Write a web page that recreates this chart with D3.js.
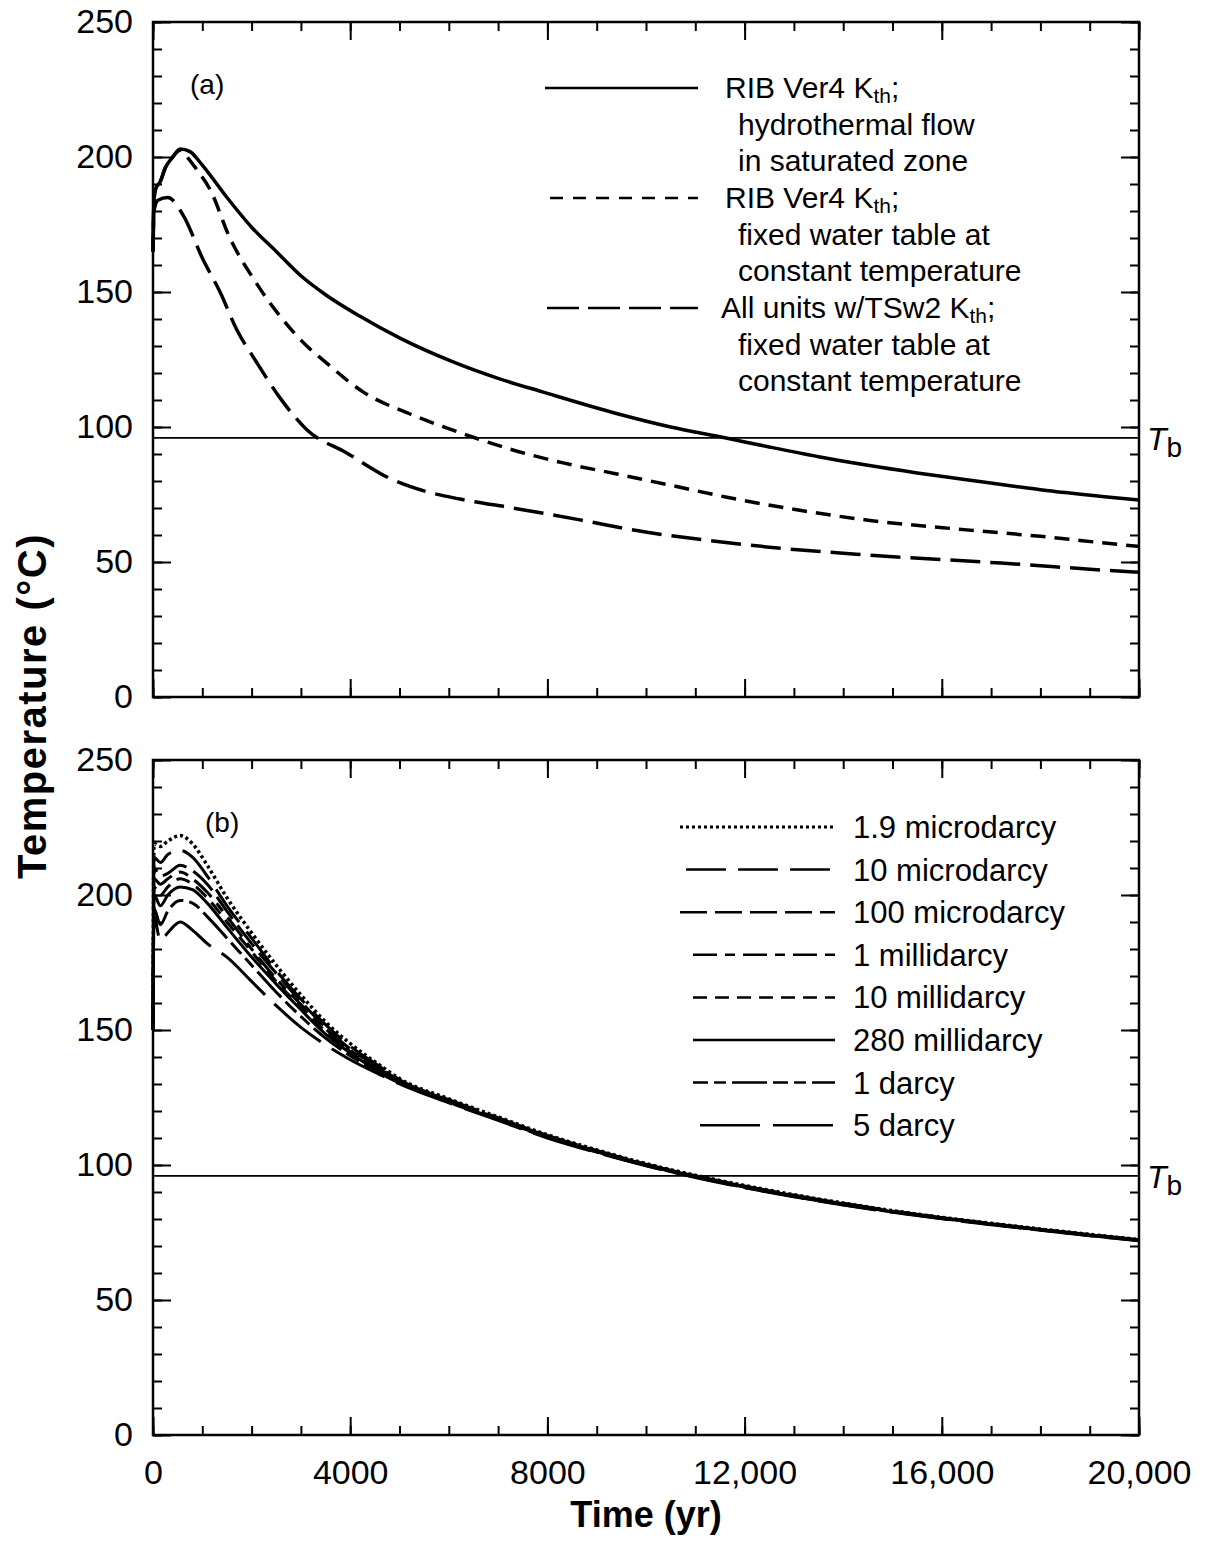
<!DOCTYPE html>
<html>
<head>
<meta charset="utf-8">
<script src="https://cdn.jsdelivr.net/npm/d3@7/dist/d3.min.js"></script>
<style>
  html, body { margin: 0; padding: 0; background: #fff; }
  svg { display: block; }
  text { font-family: "Liberation Sans", Arial, Helvetica, sans-serif; fill: #000; }
</style>
</head>
<body>
<svg id="chart" width="1210" height="1547"></svg>
<script>
// ---------- data ----------
const yTicksMajor = [0, 50, 100, 150, 200, 250];
const xTicksMajor = [0, 4000, 8000, 12000, 16000, 20000];
const xTickLabels = ["0", "4000", "8000", "12,000", "16,000", "20,000"];
const boilingTemp = 96; // T_b

// panel (a)
const aSolidYears = [0, 20, 50, 150, 250, 400, 550, 750, 1000, 1500, 2000, 2500, 3000, 3500, 4200, 5000, 6100, 7000, 7900, 9400, 10500, 11600, 12500, 13500, 14500, 15500, 16500, 17500, 18500, 19300, 20000];
const aSolidTemps = [165, 184, 188, 191, 196, 200, 203, 202, 197, 185, 174, 165, 156, 149, 141, 133, 124, 118, 113, 105, 100, 96, 92.6, 89, 85.8, 83, 80.5, 78, 75.7, 74.2, 73];

const aShortYears = [0, 20, 50, 150, 250, 400, 550, 710, 900, 1156, 1560, 2070, 2580, 3120, 3450, 4260, 5270, 6370, 7300, 8320, 9410, 10480, 11640, 13000, 14500, 16500, 18000, 19700, 20000];
const aShortTemps = [165, 184, 188, 191, 196, 200, 202.5, 199.6, 195, 188, 170, 154, 141, 130, 124.8, 113, 104.4, 97, 91.5, 86.7, 82.6, 78.5, 74, 69.5, 65.5, 61.9, 59.5, 56.3, 55.8];

const aLongYears = [0, 20, 100, 300, 610, 1015, 1360, 1700, 2100, 2580, 3120, 3930, 4800, 5560, 6230, 7300, 8660, 10020, 11360, 12500, 14500, 17200, 19900, 20000];
const aLongTemps = [165, 180, 184, 185, 178.5, 162, 150, 136, 124, 110.7, 99, 90.4, 81, 76, 73.3, 70, 65.6, 61, 57.8, 55.5, 52.6, 49.6, 46.3, 46.2];

const aLegendLabels = [
  ["RIB Ver4 K", "th", ";", "hydrothermal flow", "in saturated zone"],
  ["RIB Ver4 K", "th", ";", "fixed water table at", "constant temperature"],
  ["All units w/TSw2 K", "th", ";", "fixed water table at", "constant temperature"]
];

// panel (b): permeability cases on a shared time grid
const bYears = [0, 20, 150, 300, 550, 800, 1100, 1500, 2000, 2500, 3000, 3500, 4000, 4600, 5000, 6000, 7000, 8000, 9000, 10000, 11000, 12000, 13000, 14000, 15000, 16000, 17000, 18000, 19000, 20000];
const bLabels = ["1.9 microdarcy", "10 microdarcy", "100 microdarcy", "1 millidarcy", "10 millidarcy", "280 millidarcy", "1 darcy", "5 darcy"];
const b19micro  = [150, 219, 218, 220, 222, 219, 211, 199, 186, 174, 163, 153, 145, 137, 132, 124.5, 117.8, 111.2, 105.6, 100.5, 96.2, 92.4, 89, 85.9, 83.1, 80.6, 78.4, 76.3, 74.3, 72.4];
const b10micro  = [150, 214, 212, 215, 216.5, 214, 207, 196, 184, 172, 161.5, 152, 144, 136.5, 131.6, 124.2, 117.5, 111, 105.4, 100.3, 96, 92.2, 88.8, 85.8, 83, 80.5, 78.3, 76.2, 74.2, 72.3];
const b100micro = [150, 210, 207, 208, 211, 209, 204, 194, 182, 171, 160.5, 151, 143, 136, 131.3, 124, 117.3, 110.8, 105.2, 100.2, 95.9, 92.1, 88.7, 85.7, 82.9, 80.5, 78.2, 76.1, 74.1, 72.2];
const b1milli   = [150, 206, 204, 206, 208.5, 206, 201, 192, 180, 169, 159.5, 150.5, 142.5, 135.5, 131, 123.8, 117.1, 110.6, 105.1, 100.1, 95.8, 92, 88.6, 85.6, 82.8, 80.4, 78.2, 76.1, 74.1, 72.2];
const b10milli  = [150, 203, 200, 203, 206, 204, 199, 190, 179, 168, 158.5, 149.5, 142, 135, 130.8, 123.6, 117, 110.5, 105, 100, 95.7, 91.9, 88.5, 85.5, 82.7, 80.3, 78.1, 76, 74, 72.1];
const b280milli = [150, 200, 196, 200, 203, 202, 197, 188, 177, 167, 157.5, 148.5, 141.5, 134.5, 130.6, 123.4, 116.9, 110.4, 104.9, 99.9, 95.6, 91.8, 88.4, 85.4, 82.7, 80.3, 78.1, 76, 74, 72.1];
const b1darcy   = [150, 195, 189, 194, 198, 197, 192, 184, 174, 164, 155, 147, 140.5, 134, 130.3, 123.2, 116.7, 110.2, 104.8, 99.8, 95.5, 91.7, 88.3, 85.3, 82.6, 80.2, 78, 75.9, 73.9, 72];
const b5darcy   = [150, 192, 183, 186, 190, 187, 182, 177, 168, 159, 151, 144.5, 139, 133.5, 130, 123, 116.5, 110, 104.6, 99.7, 95.4, 91.6, 88.2, 85.2, 82.5, 80.1, 77.9, 75.8, 73.8, 71.9];

// ---------- layout ----------
const svg = d3.select("#chart");
const left = 153, right = 1139;
const panels = [
  { top: 22, bottom: 697, tag: "(a)", showX: false },
  { top: 760, bottom: 1435, tag: "(b)", showX: true }
];

const x = d3.scaleLinear().domain([0, 20000]).range([left, right]);

function yScale(p) { return d3.scaleLinear().domain([0, 250]).range([p.bottom, p.top]); }

const minorY = d3.range(0, 251, 10);
const minorX = d3.range(0, 20001, 1000);

function drawFrame(p, y) {
  const g = svg.append("g");
  // minor ticks, all four sides, inward
  g.append("g").attr("transform", `translate(${left},0)`)
    .call(d3.axisLeft(y).tickValues(minorY).tickSize(-9).tickFormat(""));
  g.append("g").attr("transform", `translate(${right},0)`)
    .call(d3.axisRight(y).tickValues(minorY).tickSize(-9).tickFormat(""));
  g.append("g").attr("transform", `translate(0,${p.bottom})`)
    .call(d3.axisBottom(x).tickValues(minorX).tickSize(-9).tickFormat(""));
  g.append("g").attr("transform", `translate(0,${p.top})`)
    .call(d3.axisTop(x).tickValues(minorX).tickSize(-9).tickFormat(""));
  // major ticks
  g.append("g").attr("transform", `translate(${left},0)`)
    .call(d3.axisLeft(y).tickValues(yTicksMajor).tickSize(-18).tickPadding(20).tickFormat(d3.format("d")));
  g.append("g").attr("transform", `translate(${right},0)`)
    .call(d3.axisRight(y).tickValues(yTicksMajor).tickSize(-18).tickFormat(""));
  g.append("g").attr("transform", `translate(0,${p.bottom})`)
    .call(d3.axisBottom(x).tickValues(xTicksMajor).tickSize(-18).tickPadding(25)
      .tickFormat((d, i) => p.showX ? xTickLabels[i] : ""));
  g.append("g").attr("transform", `translate(0,${p.top})`)
    .call(d3.axisTop(x).tickValues(xTicksMajor).tickSize(-18).tickFormat(""));

  g.selectAll(".domain").remove();
  g.selectAll(".tick line").attr("stroke", "#000").attr("stroke-width", 2);
  g.selectAll(".tick text").attr("font-size", 34).attr("fill", "#000")
    .attr("font-family", '"Liberation Sans", Arial, sans-serif');

  // border
  g.append("rect").attr("x", left).attr("y", p.top)
    .attr("width", right - left).attr("height", p.bottom - p.top)
    .attr("fill", "none").attr("stroke", "#000").attr("stroke-width", 2.5);

  // boiling-point reference line
  g.append("line").attr("x1", left).attr("x2", right)
    .attr("y1", y(boilingTemp)).attr("y2", y(boilingTemp))
    .attr("stroke", "#000").attr("stroke-width", 1.8);
  const tb = g.append("text").attr("x", 1147).attr("y", y(boilingTemp) + 12)
    .attr("font-size", 32);
  tb.append("tspan").attr("font-style", "italic").text("T");
  tb.append("tspan").attr("dy", 7).attr("font-size", 28).text("b");

  // panel tag
  g.append("text").attr("x", p.tag === "(a)" ? 190 : 205).attr("y", p.top + 72)
    .attr("font-size", 28).text(p.tag);
}

function drawSeries(years, temps, y, dash, width) {
  const pts = years.map((t, i) => [t, temps[i]]);
  const line = d3.line().x(d => x(d[0])).y(d => y(d[1])).curve(d3.curveMonotoneX);
  svg.append("path").datum(pts).attr("d", line)
    .attr("fill", "none").attr("stroke", "#000").attr("stroke-width", width)
    .attr("stroke-linejoin", "round")
    .attr("stroke-dasharray", dash);
}

// ---------- panel (a) ----------
const pa = panels[0], ya = yScale(pa);
drawFrame(pa, ya);
const aDash = [null, "15,9", "30,10"];
drawSeries(aLongYears, aLongTemps, ya, aDash[2], 3.5);
drawSeries(aShortYears, aShortTemps, ya, aDash[1], 3.5);
drawSeries(aSolidYears, aSolidTemps, ya, aDash[0], 3.5);

const aLegendY = [88, 198, 308];
const aLegendX1 = [545, 550, 547];
aLegendLabels.forEach((lab, i) => {
  const yy = aLegendY[i];
  svg.append("line").attr("x1", aLegendX1[i]).attr("x2", 698).attr("y1", yy).attr("y2", yy)
    .attr("stroke", "#000").attr("stroke-width", 2.5)
    .attr("stroke-dasharray", i === 0 ? null : (i === 1 ? "13,10" : "32,9"));
  const t = svg.append("text").attr("x", i === 2 ? 721 : 725).attr("y", yy + 10).attr("font-size", 30);
  t.append("tspan").text(lab[0]);
  t.append("tspan").attr("dy", 5).attr("font-size", 21).text(lab[1]);
  t.append("tspan").attr("dy", -5).text(lab[2]);
  svg.append("text").attr("x", 738).attr("y", yy + 10 + 37).attr("font-size", 30).text(lab[3]);
  svg.append("text").attr("x", 738).attr("y", yy + 10 + 73).attr("font-size", 30).text(lab[4]);
});

// ---------- panel (b) ----------
const pb = panels[1], yb = yScale(pb);
drawFrame(pb, yb);
const bSeries = [b19micro, b10micro, b100micro, b1milli, b10milli, b280milli, b1darcy, b5darcy];
const bDash = ["3,3", "40,12", "27,8", "24,8,10,8", "14,8", "", "15,6,12,6,35,6", "60,13"];
bSeries.slice().reverse().forEach((s, k) => {
  const i = bSeries.length - 1 - k;
  drawSeries(bYears, s, yb, bDash[i] || null, i === 0 ? 3.5 : 3);
});

const bLegendX1 = [680, 686, 680, 693, 693, 693, 693, 700];
bLabels.forEach((lab, i) => {
  const yy = 827 + i * 42.6;
  svg.append("line").attr("x1", bLegendX1[i]).attr("x2", 835).attr("y1", yy).attr("y2", yy)
    .attr("stroke", "#000").attr("stroke-width", i === 0 ? 3 : 2.5)
    .attr("stroke-dasharray", bDash[i] || null);
  svg.append("text").attr("x", 853).attr("y", yy + 11).attr("font-size", 31).text(lab);
});

// ---------- axis titles ----------
svg.append("text").attr("transform", "translate(46,706) rotate(-90)")
  .attr("text-anchor", "middle").attr("font-size", 40).attr("font-weight", "bold")
  .attr("letter-spacing", 1.5)
  .text("Temperature (°C)");
svg.append("text").attr("x", 646).attr("y", 1527)
  .attr("text-anchor", "middle").attr("font-size", 36).attr("font-weight", "bold")
  .text("Time (yr)");
</script>
</body>
</html>
